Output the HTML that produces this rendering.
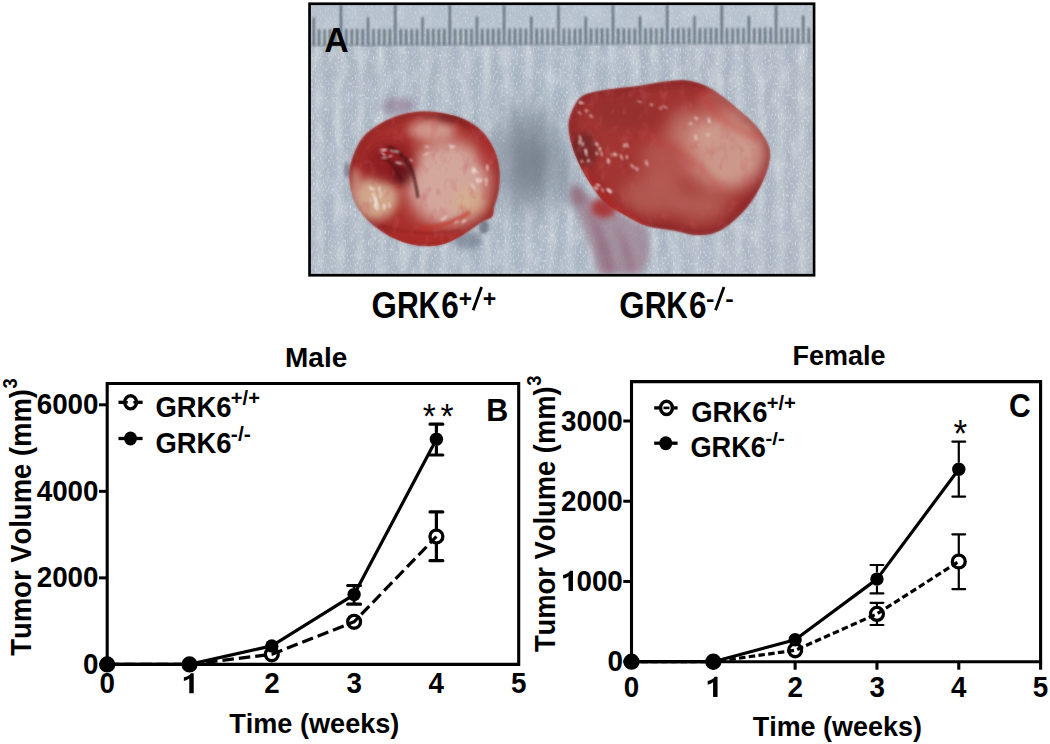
<!DOCTYPE html>
<html><head><meta charset="utf-8"><style>
html,body{margin:0;padding:0;background:#fff;width:1050px;height:744px;overflow:hidden}
svg{display:block}
text{font-family:"Liberation Sans", sans-serif;font-weight:bold;fill:#000;font-kerning:none}
</style></head><body>
<svg width="1050" height="744" viewBox="0 0 1050 744">
<defs>
<clipPath id="pc"><rect x="310.9" y="5.1" width="501.8" height="268.8"/></clipPath>
<filter id="b1" x="-50%" y="-50%" width="200%" height="200%"><feGaussianBlur stdDeviation="0.8"/></filter>
<filter id="b2" x="-30%" y="-30%" width="160%" height="160%"><feGaussianBlur stdDeviation="1.6"/></filter>
<filter id="b3" x="-50%" y="-50%" width="200%" height="200%"><feGaussianBlur stdDeviation="3"/></filter>
<filter id="b5" x="-50%" y="-50%" width="200%" height="200%"><feGaussianBlur stdDeviation="5"/></filter>
<filter id="b8" x="-50%" y="-50%" width="200%" height="200%"><feGaussianBlur stdDeviation="8"/></filter>
<filter id="b12" x="-60%" y="-60%" width="220%" height="220%"><feGaussianBlur stdDeviation="12"/></filter>
<filter id="tex" x="0" y="0" width="100%" height="100%">
 <feTurbulence type="fractalNoise" baseFrequency="0.12 0.045" numOctaves="3" seed="5" result="n"/>
 <feColorMatrix in="n" type="matrix" values="0 0 0 0 0.86  0 0 0 0 0.89  0 0 0 0 0.92  1.6 0 0 0 -0.7" />
</filter>
<filter id="tex2" x="0" y="0" width="100%" height="100%">
 <feTurbulence type="fractalNoise" baseFrequency="0.15 0.04" numOctaves="2" seed="11" result="n"/>
 <feColorMatrix in="n" type="matrix" values="0 0 0 0 0.50  0 0 0 0 0.56  0 0 0 0 0.66  -1.8 0 0 0 0.85" />
</filter>
<filter id="ttex" x="0" y="0" width="100%" height="100%">
 <feTurbulence type="fractalNoise" baseFrequency="0.08 0.1" numOctaves="3" seed="2" result="n"/>
 <feColorMatrix in="n" type="matrix" values="0 0 0 0 0.85  0 0 0 0 0.70  0 0 0 0 0.66  2.0 0 0 0 -1.0" />
</filter>
<filter id="ttex2" x="0" y="0" width="100%" height="100%">
 <feTurbulence type="fractalNoise" baseFrequency="0.1 0.07" numOctaves="3" seed="9" result="n"/>
 <feColorMatrix in="n" type="matrix" values="0 0 0 0 0.55  0 0 0 0 0.10  0 0 0 0 0.12  2.0 0 0 0 -1.05" />
</filter>
<filter id="speck" x="0" y="0" width="100%" height="100%">
 <feTurbulence type="fractalNoise" baseFrequency="0.6 0.35" numOctaves="1" seed="21" result="n"/>
 <feColorMatrix in="n" type="matrix" values="0 0 0 0 0.95  0 0 0 0 0.96  0 0 0 0 0.98  3.0 0 0 0 -1.55" />
</filter>
<linearGradient id="bg" x1="0" y1="0" x2="1" y2="0">
 <stop offset="0" stop-color="#adb8c4"/><stop offset="0.5" stop-color="#acb8c5"/><stop offset="1" stop-color="#b0bac5"/>
</linearGradient>
<pattern id="stripes" x="311" y="0" width="21" height="300" patternUnits="userSpaceOnUse">
 <rect x="4" y="0" width="7" height="300" fill="#dde4ea" opacity="0.22"/>
 <rect x="14" y="0" width="5" height="300" fill="#8a9aaa" opacity="0.12"/>
</pattern>
</defs>
<g clip-path="url(#pc)">
<rect x="310" y="4" width="504" height="271" fill="url(#bg)"/>
<rect x="310" y="46" width="504" height="229" fill="url(#stripes)" filter="url(#b2)"/>
<g filter="url(#b1)"><rect x="310" y="4" width="504" height="271" filter="url(#tex)" opacity="0.5"/></g>
<rect x="310" y="4" width="504" height="271" filter="url(#tex2)" opacity="0.45"/>
<rect x="310" y="4" width="504" height="271" filter="url(#speck)" opacity="0.5"/>
<rect x="310" y="4" width="504" height="41" fill="#c2ccd6" opacity="0.45"/>
<path d="M313.7,45.5V17.5M319.1,45.5V29.2M324.6,45.4V29.2M330.0,45.4V29.1M335.5,45.4V29.1M340.9,45.4V5.0M346.3,45.3V29.1M351.8,45.3V29.1M357.2,45.3V29.1M362.7,45.3V29.0M368.1,45.2V17.3M373.5,45.2V29.0M379.0,45.2V29.0M384.4,45.2V29.0M389.9,45.1V29.0M395.3,45.1V5.0M400.7,45.1V28.9M406.2,45.1V28.9M411.6,45.1V28.9M417.1,45.0V28.9M422.5,45.0V17.1M427.9,45.0V28.8M433.4,45.0V28.8M438.8,44.9V28.8M444.3,44.9V28.8M449.7,44.9V5.0M455.1,44.9V28.8M460.6,44.8V28.7M466.0,44.8V28.7M471.5,44.8V28.7M476.9,44.8V16.8M482.3,44.7V28.7M487.8,44.7V28.7M493.2,44.7V28.7M498.7,44.7V28.6M504.1,44.6V5.0M509.5,44.6V28.6M515.0,44.6V28.6M520.4,44.6V28.6M525.9,44.6V28.6M531.3,44.5V16.6M536.7,44.5V28.5M542.2,44.5V28.5M547.6,44.5V28.5M553.1,44.4V28.5M558.5,44.4V5.0M563.9,44.4V28.4M569.4,44.4V28.4M574.8,44.3V28.4M580.3,44.3V28.4M585.7,44.3V16.4M591.1,44.3V28.4M596.6,44.2V28.3M602.0,44.2V28.3M607.5,44.2V28.3M612.9,44.2V5.0M618.3,44.1V28.3M623.8,44.1V28.3M629.2,44.1V28.2M634.7,44.1V28.2M640.1,44.0V16.2M645.5,44.0V28.2M651.0,44.0V28.2M656.4,44.0V28.2M661.9,44.0V28.1M667.3,43.9V5.0M672.7,43.9V28.1M678.2,43.9V28.1M683.6,43.9V28.1M689.1,43.8V28.1M694.5,43.8V16.0M699.9,43.8V28.0M705.4,43.8V28.0M710.8,43.7V28.0M716.3,43.7V28.0M721.7,43.7V5.0M727.1,43.7V27.9M732.6,43.6V27.9M738.0,43.6V27.9M743.5,43.6V27.9M748.9,43.6V15.7M754.3,43.5V27.9M759.8,43.5V27.9M765.2,43.5V27.8M770.7,43.5V27.8M776.1,43.4V5.0M781.5,43.4V27.8M787.0,43.4V27.8M792.4,43.4V27.8M797.9,43.4V27.7M803.3,43.3V15.5M808.7,43.3V27.7" stroke="#28323a" stroke-width="1.45" fill="none" opacity="0.9" filter="url(#b1)"/>
<path d="M310,45 L814,42.8" stroke="#5c666e" stroke-width="1.6" opacity="0.4" filter="url(#b1)"/>
<ellipse cx="528" cy="160" rx="32" ry="52" fill="#76808c" opacity="0.7" filter="url(#b12)"/>
<ellipse cx="532" cy="162" rx="14" ry="24" fill="#646e7a" opacity="0.4" filter="url(#b8)"/>
<ellipse cx="566" cy="180" rx="7" ry="30" fill="#7a8494" opacity="0.4" filter="url(#b5)"/>
<path d="M571,182 C585,195 620,215 645,226 C652,240 650,258 642,274 L598,274 C592,250 584,228 576,210 C572,200 570,190 571,182Z" fill="#9c7c8c" opacity="0.7" filter="url(#b3)"/>
<path d="M585,205 C592,225 600,250 604,274 L616,274 C612,250 604,228 585,205Z" fill="#804058" opacity="0.35" filter="url(#b3)"/>
<path d="M612,222 C620,240 626,258 628,274 L636,274 C634,256 628,238 612,222Z" fill="#804058" opacity="0.3" filter="url(#b3)"/>
<ellipse cx="578" cy="196" rx="8" ry="10" fill="#7a4a5c" opacity="0.4" filter="url(#b3)"/>
<ellipse cx="604" cy="208" rx="13" ry="10" fill="#a82c2c" opacity="0.85" filter="url(#b3)"/>
<ellipse cx="398" cy="106" rx="16" ry="9" fill="#8a6a88" opacity="0.5" filter="url(#b3)"/>
<ellipse cx="468" cy="240" rx="14" ry="9" fill="#5a6478" opacity="0.5" filter="url(#b3)"/>
<ellipse cx="484" cy="227" rx="5" ry="7" fill="#3a4050" opacity="0.5" filter="url(#b2)"/>
<ellipse cx="347" cy="170" rx="3" ry="8" fill="#5a5a70" opacity="0.5" filter="url(#b2)"/>
<path d="M349.4,177.0 C349.0,170.1 350.2,164.9 352.5,158.3 C354.8,151.7 358.0,143.4 362.9,137.5 C367.8,131.6 375.1,126.7 381.7,122.9 C388.3,119.1 395.6,116.5 402.5,114.6 C409.4,112.7 416.4,111.7 423.3,111.5 C430.2,111.3 437.2,112.1 444.2,113.5 C451.1,114.9 458.8,116.8 465.0,119.8 C471.2,122.8 476.8,126.3 481.7,131.3 C486.6,136.3 491.2,143.4 494.2,150.0 C497.1,156.6 498.7,163.9 499.4,170.8 C500.1,177.8 499.2,185.8 498.3,191.7 C497.4,197.6 495.2,202.1 494.2,206.3 C493.1,210.5 494.1,214.1 492.0,216.7 C489.9,219.3 486.2,219.0 481.7,221.8 C477.2,224.6 471.2,229.6 465.0,233.3 C458.8,237.0 451.1,241.7 444.2,243.8 C437.2,245.9 430.2,246.2 423.3,245.8 C416.4,245.5 409.4,244.1 402.5,241.7 C395.6,239.3 387.9,235.5 381.7,231.3 C375.4,227.1 369.5,221.9 365.0,216.7 C360.5,211.5 357.2,206.6 354.6,200.0 C352.0,193.4 349.8,183.9 349.4,177.0Z" fill="#a8302e" filter="url(#b1)"/>
<clipPath id="stc"><path d="M349.4,177.0 C349.0,170.1 350.2,164.9 352.5,158.3 C354.8,151.7 358.0,143.4 362.9,137.5 C367.8,131.6 375.1,126.7 381.7,122.9 C388.3,119.1 395.6,116.5 402.5,114.6 C409.4,112.7 416.4,111.7 423.3,111.5 C430.2,111.3 437.2,112.1 444.2,113.5 C451.1,114.9 458.8,116.8 465.0,119.8 C471.2,122.8 476.8,126.3 481.7,131.3 C486.6,136.3 491.2,143.4 494.2,150.0 C497.1,156.6 498.7,163.9 499.4,170.8 C500.1,177.8 499.2,185.8 498.3,191.7 C497.4,197.6 495.2,202.1 494.2,206.3 C493.1,210.5 494.1,214.1 492.0,216.7 C489.9,219.3 486.2,219.0 481.7,221.8 C477.2,224.6 471.2,229.6 465.0,233.3 C458.8,237.0 451.1,241.7 444.2,243.8 C437.2,245.9 430.2,246.2 423.3,245.8 C416.4,245.5 409.4,244.1 402.5,241.7 C395.6,239.3 387.9,235.5 381.7,231.3 C375.4,227.1 369.5,221.9 365.0,216.7 C360.5,211.5 357.2,206.6 354.6,200.0 C352.0,193.4 349.8,183.9 349.4,177.0Z"/></clipPath>
<g clip-path="url(#stc)">
<path d="M349.4,177.0 C349.0,170.1 350.2,164.9 352.5,158.3 C354.8,151.7 358.0,143.4 362.9,137.5 C367.8,131.6 375.1,126.7 381.7,122.9 C388.3,119.1 395.6,116.5 402.5,114.6 C409.4,112.7 416.4,111.7 423.3,111.5 C430.2,111.3 437.2,112.1 444.2,113.5 C451.1,114.9 458.8,116.8 465.0,119.8 C471.2,122.8 476.8,126.3 481.7,131.3 C486.6,136.3 491.2,143.4 494.2,150.0 C497.1,156.6 498.7,163.9 499.4,170.8 C500.1,177.8 499.2,185.8 498.3,191.7 C497.4,197.6 495.2,202.1 494.2,206.3 C493.1,210.5 494.1,214.1 492.0,216.7 C489.9,219.3 486.2,219.0 481.7,221.8 C477.2,224.6 471.2,229.6 465.0,233.3 C458.8,237.0 451.1,241.7 444.2,243.8 C437.2,245.9 430.2,246.2 423.3,245.8 C416.4,245.5 409.4,244.1 402.5,241.7 C395.6,239.3 387.9,235.5 381.7,231.3 C375.4,227.1 369.5,221.9 365.0,216.7 C360.5,211.5 357.2,206.6 354.6,200.0 C352.0,193.4 349.8,183.9 349.4,177.0Z" fill="none" stroke="#7e1c1e" stroke-width="12" opacity="0.45" filter="url(#b5)"/>
<ellipse cx="448" cy="183" rx="42" ry="44" fill="#d8b4a8" opacity="0.9" filter="url(#b8)"/>
<ellipse cx="432" cy="130" rx="24" ry="11" fill="#dcb8a8" opacity="0.75" filter="url(#b5)"/>
<ellipse cx="376" cy="198" rx="22" ry="22" fill="#d8bc9c" opacity="0.85" filter="url(#b5)"/>
<ellipse cx="470" cy="202" rx="16" ry="14" fill="#d6b488" opacity="0.55" filter="url(#b5)"/>
<ellipse cx="356" cy="185" rx="6" ry="18" fill="#d4a898" opacity="0.6" filter="url(#b3)"/>
<ellipse cx="390" cy="162" rx="26" ry="21" fill="#8c1e20" opacity="0.85" filter="url(#b5)"/>
<ellipse cx="402" cy="172" rx="10" ry="14" fill="#4a0e12" opacity="0.55" filter="url(#b3)"/>
<ellipse cx="450" cy="118" rx="14" ry="6" fill="#6a1a1c" opacity="0.5" filter="url(#b3)"/>
<ellipse cx="425" cy="238" rx="55" ry="9" fill="#b02a28" opacity="0.6" filter="url(#b3)"/>
<ellipse cx="488" cy="150" rx="10" ry="20" fill="#b03030" opacity="0.5" filter="url(#b3)"/>
<path d="M470,212 C455,222 440,228 420,228" stroke="#c03028" stroke-width="5" fill="none" opacity="0.6" filter="url(#b2)"/>
<path d="M349.4,177.0 C349.0,170.1 350.2,164.9 352.5,158.3 C354.8,151.7 358.0,143.4 362.9,137.5 C367.8,131.6 375.1,126.7 381.7,122.9 C388.3,119.1 395.6,116.5 402.5,114.6 C409.4,112.7 416.4,111.7 423.3,111.5 C430.2,111.3 437.2,112.1 444.2,113.5 C451.1,114.9 458.8,116.8 465.0,119.8 C471.2,122.8 476.8,126.3 481.7,131.3 C486.6,136.3 491.2,143.4 494.2,150.0 C497.1,156.6 498.7,163.9 499.4,170.8 C500.1,177.8 499.2,185.8 498.3,191.7 C497.4,197.6 495.2,202.1 494.2,206.3 C493.1,210.5 494.1,214.1 492.0,216.7 C489.9,219.3 486.2,219.0 481.7,221.8 C477.2,224.6 471.2,229.6 465.0,233.3 C458.8,237.0 451.1,241.7 444.2,243.8 C437.2,245.9 430.2,246.2 423.3,245.8 C416.4,245.5 409.4,244.1 402.5,241.7 C395.6,239.3 387.9,235.5 381.7,231.3 C375.4,227.1 369.5,221.9 365.0,216.7 C360.5,211.5 357.2,206.6 354.6,200.0 C352.0,193.4 349.8,183.9 349.4,177.0Z" filter="url(#ttex2)" opacity="0.55"/>
<path d="M388,147 C398,150 406,158 410,166 C414,175 416,184 418,198" stroke="#3a0e10" stroke-width="2.4" fill="none" opacity="0.85" filter="url(#b1)"/>
<path d="M380,156 C390,160 398,170 402,181" stroke="#4a1010" stroke-width="3" fill="none" opacity="0.6" filter="url(#b1)"/>
<path d="M424,118 C440,114 458,120 470,128" stroke="#7a2020" stroke-width="3" fill="none" opacity="0.45" filter="url(#b2)"/>
<path d="M380,225 C400,232 430,236 460,230" stroke="#8a2020" stroke-width="2" fill="none" opacity="0.5" filter="url(#b1)"/>
<ellipse cx="374.2" cy="189.3" rx="1.8" ry="0.7" transform="rotate(54 374.2 189.3)" fill="#f8ece8" opacity="0.85" filter="url(#b1)"/>
<ellipse cx="377.8" cy="207.2" rx="3.0" ry="0.8" transform="rotate(78 377.8 207.2)" fill="#f8ece8" opacity="0.85" filter="url(#b1)"/>
<ellipse cx="380.8" cy="193.1" rx="1.7" ry="0.8" transform="rotate(40 380.8 193.1)" fill="#f8ece8" opacity="0.85" filter="url(#b1)"/>
<ellipse cx="389.4" cy="205.2" rx="3.1" ry="0.8" transform="rotate(78 389.4 205.2)" fill="#f8ece8" opacity="0.85" filter="url(#b1)"/>
<ellipse cx="375.8" cy="200.8" rx="3.2" ry="1.2" transform="rotate(74 375.8 200.8)" fill="#f8ece8" opacity="0.85" filter="url(#b1)"/>
<ellipse cx="370.9" cy="200.3" rx="2.5" ry="0.8" transform="rotate(70 370.9 200.3)" fill="#f8ece8" opacity="0.85" filter="url(#b1)"/>
<ellipse cx="379.4" cy="189.0" rx="3.2" ry="1.0" transform="rotate(86 379.4 189.0)" fill="#f8ece8" opacity="0.85" filter="url(#b1)"/>
<ellipse cx="375.6" cy="207.0" rx="3.3" ry="1.2" transform="rotate(64 375.6 207.0)" fill="#f8ece8" opacity="0.85" filter="url(#b1)"/>
<ellipse cx="380.2" cy="196.1" rx="2.4" ry="0.8" transform="rotate(66 380.2 196.1)" fill="#f8ece8" opacity="0.85" filter="url(#b1)"/>
<ellipse cx="375.7" cy="204.9" rx="1.6" ry="1.1" transform="rotate(33 375.7 204.9)" fill="#f8ece8" opacity="0.85" filter="url(#b1)"/>
<ellipse cx="375.2" cy="198.8" rx="2.2" ry="1.3" transform="rotate(58 375.2 198.8)" fill="#f8ece8" opacity="0.85" filter="url(#b1)"/>
<ellipse cx="373.3" cy="196.1" rx="2.8" ry="0.9" transform="rotate(42 373.3 196.1)" fill="#f8ece8" opacity="0.85" filter="url(#b1)"/>
<ellipse cx="376.8" cy="203.4" rx="2.6" ry="1.2" transform="rotate(49 376.8 203.4)" fill="#f8ece8" opacity="0.85" filter="url(#b1)"/>
<ellipse cx="371.2" cy="188.4" rx="3.0" ry="1.1" transform="rotate(44 371.2 188.4)" fill="#f8ece8" opacity="0.85" filter="url(#b1)"/>
<ellipse cx="374.2" cy="194.3" rx="2.4" ry="0.7" transform="rotate(41 374.2 194.3)" fill="#f8ece8" opacity="0.85" filter="url(#b1)"/>
<ellipse cx="384.3" cy="206.7" rx="3.0" ry="1.3" transform="rotate(87 384.3 206.7)" fill="#f8ece8" opacity="0.85" filter="url(#b1)"/>
<ellipse cx="383.5" cy="154.2" rx="3.1" ry="0.9" transform="rotate(48 383.5 154.2)" fill="#f8ece8" opacity="0.85" filter="url(#b1)"/>
<ellipse cx="411.3" cy="160.2" rx="2.1" ry="0.8" transform="rotate(39 411.3 160.2)" fill="#f8ece8" opacity="0.85" filter="url(#b1)"/>
<ellipse cx="396.3" cy="151.5" rx="3.4" ry="0.9" transform="rotate(13 396.3 151.5)" fill="#f8ece8" opacity="0.85" filter="url(#b1)"/>
<ellipse cx="383.3" cy="149.8" rx="3.1" ry="0.9" transform="rotate(0 383.3 149.8)" fill="#f8ece8" opacity="0.85" filter="url(#b1)"/>
<ellipse cx="391.7" cy="150.7" rx="2.3" ry="0.8" transform="rotate(49 391.7 150.7)" fill="#f8ece8" opacity="0.85" filter="url(#b1)"/>
<ellipse cx="384.8" cy="150.0" rx="2.9" ry="0.8" transform="rotate(0 384.8 150.0)" fill="#f8ece8" opacity="0.85" filter="url(#b1)"/>
<ellipse cx="384.2" cy="157.8" rx="3.5" ry="0.8" transform="rotate(5 384.2 157.8)" fill="#f8ece8" opacity="0.85" filter="url(#b1)"/>
<ellipse cx="398.9" cy="162.9" rx="3.5" ry="1.0" transform="rotate(15 398.9 162.9)" fill="#f8ece8" opacity="0.85" filter="url(#b1)"/>
<ellipse cx="390.3" cy="156.4" rx="2.3" ry="0.8" transform="rotate(-8 390.3 156.4)" fill="#f8ece8" opacity="0.85" filter="url(#b1)"/>
<ellipse cx="486.2" cy="184.3" rx="1.6" ry="0.9" transform="rotate(60 486.2 184.3)" fill="#f8ece8" opacity="0.85" filter="url(#b1)"/>
<ellipse cx="475.9" cy="170.6" rx="3.2" ry="0.8" transform="rotate(44 475.9 170.6)" fill="#f8ece8" opacity="0.85" filter="url(#b1)"/>
<ellipse cx="472.8" cy="186.4" rx="3.5" ry="0.9" transform="rotate(64 472.8 186.4)" fill="#f8ece8" opacity="0.85" filter="url(#b1)"/>
<ellipse cx="486.4" cy="180.4" rx="3.0" ry="1.0" transform="rotate(77 486.4 180.4)" fill="#f8ece8" opacity="0.85" filter="url(#b1)"/>
<ellipse cx="473.5" cy="170.6" rx="3.3" ry="1.3" transform="rotate(82 473.5 170.6)" fill="#f8ece8" opacity="0.85" filter="url(#b1)"/>
<ellipse cx="477.4" cy="180.5" rx="2.8" ry="1.2" transform="rotate(78 477.4 180.5)" fill="#f8ece8" opacity="0.85" filter="url(#b1)"/>
<ellipse cx="480.4" cy="180.4" rx="2.0" ry="1.3" transform="rotate(71 480.4 180.4)" fill="#f8ece8" opacity="0.85" filter="url(#b1)"/>
<ellipse cx="487.3" cy="167.6" rx="3.4" ry="1.1" transform="rotate(88 487.3 167.6)" fill="#f8ece8" opacity="0.85" filter="url(#b1)"/>
<ellipse cx="426.3" cy="154.0" rx="3.4" ry="1.1" transform="rotate(-22 426.3 154.0)" fill="#f8ece8" opacity="0.6" filter="url(#b1)"/>
<ellipse cx="426.8" cy="146.7" rx="2.6" ry="1.1" transform="rotate(8 426.8 146.7)" fill="#f8ece8" opacity="0.6" filter="url(#b1)"/>
<ellipse cx="452.8" cy="147.2" rx="3.3" ry="0.7" transform="rotate(-30 452.8 147.2)" fill="#f8ece8" opacity="0.6" filter="url(#b1)"/>
<ellipse cx="451.3" cy="146.2" rx="3.1" ry="1.2" transform="rotate(19 451.3 146.2)" fill="#f8ece8" opacity="0.6" filter="url(#b1)"/>
<ellipse cx="456.3" cy="221.8" rx="2.8" ry="0.9" transform="rotate(-38 456.3 221.8)" fill="#f8ece8" opacity="0.7" filter="url(#b1)"/>
<ellipse cx="464.8" cy="220.7" rx="2.6" ry="0.7" transform="rotate(-22 464.8 220.7)" fill="#f8ece8" opacity="0.7" filter="url(#b1)"/>
<ellipse cx="443.4" cy="218.9" rx="3.2" ry="1.1" transform="rotate(-21 443.4 218.9)" fill="#f8ece8" opacity="0.7" filter="url(#b1)"/>
<ellipse cx="446.0" cy="216.6" rx="2.5" ry="0.7" transform="rotate(-4 446.0 216.6)" fill="#f8ece8" opacity="0.7" filter="url(#b1)"/>
<ellipse cx="463.4" cy="221.3" rx="2.6" ry="0.9" transform="rotate(-45 463.4 221.3)" fill="#f8ece8" opacity="0.7" filter="url(#b1)"/>
</g>
<path d="M570.3,116.1 C572.4,110.2 575.8,101.1 581.7,96.7 C587.6,92.3 596.8,91.6 605.7,89.9 C614.7,88.2 625.9,87.7 635.4,86.4 C644.9,85.1 654.0,82.9 662.8,81.9 C671.6,81.0 679.8,79.4 688.0,80.7 C696.2,82.0 702.9,84.0 712.0,89.5 C721.1,95.0 735.0,107.1 742.8,113.8 C750.6,120.5 754.4,124.1 758.8,129.8 C763.2,135.5 767.5,142.0 769.0,148.1 C770.5,154.2 769.7,159.6 768.0,166.4 C766.3,173.2 763.0,181.6 758.8,189.2 C754.6,196.8 749.3,205.2 742.8,212.1 C736.3,219.0 727.6,226.6 720.0,230.4 C712.4,234.2 704.6,235.0 697.0,235.0 C689.4,235.0 682.6,231.9 674.2,230.4 C665.8,228.9 655.2,228.5 646.8,225.8 C638.4,223.1 630.9,218.2 624.0,214.4 C617.1,210.6 610.7,207.2 605.7,203.0 C600.8,198.8 598.1,194.5 594.3,189.2 C590.5,183.9 586.2,177.5 582.8,171.0 C579.4,164.5 576.0,156.9 573.7,150.4 C571.4,143.9 569.7,137.8 569.1,132.1 C568.5,126.4 568.2,122.0 570.3,116.1Z" fill="#a23432" filter="url(#b1)"/>
<clipPath id="btc"><path d="M570.3,116.1 C572.4,110.2 575.8,101.1 581.7,96.7 C587.6,92.3 596.8,91.6 605.7,89.9 C614.7,88.2 625.9,87.7 635.4,86.4 C644.9,85.1 654.0,82.9 662.8,81.9 C671.6,81.0 679.8,79.4 688.0,80.7 C696.2,82.0 702.9,84.0 712.0,89.5 C721.1,95.0 735.0,107.1 742.8,113.8 C750.6,120.5 754.4,124.1 758.8,129.8 C763.2,135.5 767.5,142.0 769.0,148.1 C770.5,154.2 769.7,159.6 768.0,166.4 C766.3,173.2 763.0,181.6 758.8,189.2 C754.6,196.8 749.3,205.2 742.8,212.1 C736.3,219.0 727.6,226.6 720.0,230.4 C712.4,234.2 704.6,235.0 697.0,235.0 C689.4,235.0 682.6,231.9 674.2,230.4 C665.8,228.9 655.2,228.5 646.8,225.8 C638.4,223.1 630.9,218.2 624.0,214.4 C617.1,210.6 610.7,207.2 605.7,203.0 C600.8,198.8 598.1,194.5 594.3,189.2 C590.5,183.9 586.2,177.5 582.8,171.0 C579.4,164.5 576.0,156.9 573.7,150.4 C571.4,143.9 569.7,137.8 569.1,132.1 C568.5,126.4 568.2,122.0 570.3,116.1Z"/></clipPath>
<g clip-path="url(#btc)">
<path d="M570.3,116.1 C572.4,110.2 575.8,101.1 581.7,96.7 C587.6,92.3 596.8,91.6 605.7,89.9 C614.7,88.2 625.9,87.7 635.4,86.4 C644.9,85.1 654.0,82.9 662.8,81.9 C671.6,81.0 679.8,79.4 688.0,80.7 C696.2,82.0 702.9,84.0 712.0,89.5 C721.1,95.0 735.0,107.1 742.8,113.8 C750.6,120.5 754.4,124.1 758.8,129.8 C763.2,135.5 767.5,142.0 769.0,148.1 C770.5,154.2 769.7,159.6 768.0,166.4 C766.3,173.2 763.0,181.6 758.8,189.2 C754.6,196.8 749.3,205.2 742.8,212.1 C736.3,219.0 727.6,226.6 720.0,230.4 C712.4,234.2 704.6,235.0 697.0,235.0 C689.4,235.0 682.6,231.9 674.2,230.4 C665.8,228.9 655.2,228.5 646.8,225.8 C638.4,223.1 630.9,218.2 624.0,214.4 C617.1,210.6 610.7,207.2 605.7,203.0 C600.8,198.8 598.1,194.5 594.3,189.2 C590.5,183.9 586.2,177.5 582.8,171.0 C579.4,164.5 576.0,156.9 573.7,150.4 C571.4,143.9 569.7,137.8 569.1,132.1 C568.5,126.4 568.2,122.0 570.3,116.1Z" fill="none" stroke="#7a1e20" stroke-width="14" opacity="0.5" filter="url(#b5)"/>
<ellipse cx="728" cy="102" rx="30" ry="18" fill="#c87a70" opacity="0.5" filter="url(#b5)"/>
<ellipse cx="726" cy="152" rx="40" ry="38" fill="#d8b2a2" opacity="0.8" filter="url(#b8)"/>
<ellipse cx="690" cy="130" rx="22" ry="20" fill="#d4a898" opacity="0.55" filter="url(#b8)"/>
<ellipse cx="652" cy="195" rx="30" ry="20" fill="#cf9c8c" opacity="0.35" filter="url(#b8)"/>
<ellipse cx="672" cy="160" rx="32" ry="26" fill="#c87a70" opacity="0.45" filter="url(#b8)"/>
<ellipse cx="700" cy="205" rx="28" ry="16" fill="#cfa090" opacity="0.35" filter="url(#b8)"/>
<ellipse cx="625" cy="112" rx="35" ry="16" fill="#8e2e2e" opacity="0.6" filter="url(#b5)"/>
<ellipse cx="585" cy="150" rx="13" ry="18" fill="#5a2222" opacity="0.55" filter="url(#b3)"/>
<path d="M578,165 C590,190 610,210 645,226" stroke="#c62a28" stroke-width="10" fill="none" opacity="0.5" filter="url(#b3)"/>
<path d="M700,86 C708,110 725,128 760,138" stroke="#c43030" stroke-width="7" fill="none" opacity="0.35" filter="url(#b3)"/>
<path d="M640,135 C670,145 700,160 720,190" stroke="#c03030" stroke-width="5" fill="none" opacity="0.35" filter="url(#b3)"/>
<path d="M570.3,116.1 C572.4,110.2 575.8,101.1 581.7,96.7 C587.6,92.3 596.8,91.6 605.7,89.9 C614.7,88.2 625.9,87.7 635.4,86.4 C644.9,85.1 654.0,82.9 662.8,81.9 C671.6,81.0 679.8,79.4 688.0,80.7 C696.2,82.0 702.9,84.0 712.0,89.5 C721.1,95.0 735.0,107.1 742.8,113.8 C750.6,120.5 754.4,124.1 758.8,129.8 C763.2,135.5 767.5,142.0 769.0,148.1 C770.5,154.2 769.7,159.6 768.0,166.4 C766.3,173.2 763.0,181.6 758.8,189.2 C754.6,196.8 749.3,205.2 742.8,212.1 C736.3,219.0 727.6,226.6 720.0,230.4 C712.4,234.2 704.6,235.0 697.0,235.0 C689.4,235.0 682.6,231.9 674.2,230.4 C665.8,228.9 655.2,228.5 646.8,225.8 C638.4,223.1 630.9,218.2 624.0,214.4 C617.1,210.6 610.7,207.2 605.7,203.0 C600.8,198.8 598.1,194.5 594.3,189.2 C590.5,183.9 586.2,177.5 582.8,171.0 C579.4,164.5 576.0,156.9 573.7,150.4 C571.4,143.9 569.7,137.8 569.1,132.1 C568.5,126.4 568.2,122.0 570.3,116.1Z" filter="url(#ttex2)" opacity="0.5"/>
<ellipse cx="596.9" cy="144.3" rx="2.5" ry="1.3" transform="rotate(54 596.9 144.3)" fill="#f8ece8" opacity="0.85" filter="url(#b1)"/>
<ellipse cx="580.3" cy="138.4" rx="3.3" ry="1.0" transform="rotate(77 580.3 138.4)" fill="#f8ece8" opacity="0.85" filter="url(#b1)"/>
<ellipse cx="588.4" cy="160.7" rx="1.6" ry="1.2" transform="rotate(87 588.4 160.7)" fill="#f8ece8" opacity="0.85" filter="url(#b1)"/>
<ellipse cx="582.7" cy="144.1" rx="2.3" ry="1.2" transform="rotate(90 582.7 144.1)" fill="#f8ece8" opacity="0.85" filter="url(#b1)"/>
<ellipse cx="582.0" cy="161.2" rx="1.8" ry="1.0" transform="rotate(51 582.0 161.2)" fill="#f8ece8" opacity="0.85" filter="url(#b1)"/>
<ellipse cx="586.1" cy="151.3" rx="2.9" ry="0.7" transform="rotate(94 586.1 151.3)" fill="#f8ece8" opacity="0.85" filter="url(#b1)"/>
<ellipse cx="585.5" cy="151.3" rx="2.9" ry="1.0" transform="rotate(69 585.5 151.3)" fill="#f8ece8" opacity="0.85" filter="url(#b1)"/>
<ellipse cx="579.8" cy="142.4" rx="2.2" ry="1.2" transform="rotate(91 579.8 142.4)" fill="#f8ece8" opacity="0.85" filter="url(#b1)"/>
<ellipse cx="601.7" cy="153.8" rx="2.7" ry="0.9" transform="rotate(81 601.7 153.8)" fill="#f8ece8" opacity="0.85" filter="url(#b1)"/>
<ellipse cx="599.9" cy="149.0" rx="2.1" ry="1.2" transform="rotate(95 599.9 149.0)" fill="#f8ece8" opacity="0.85" filter="url(#b1)"/>
<ellipse cx="596.9" cy="153.4" rx="1.8" ry="1.2" transform="rotate(67 596.9 153.4)" fill="#f8ece8" opacity="0.85" filter="url(#b1)"/>
<ellipse cx="586.7" cy="154.9" rx="1.7" ry="0.8" transform="rotate(48 586.7 154.9)" fill="#f8ece8" opacity="0.85" filter="url(#b1)"/>
<ellipse cx="624.2" cy="145.6" rx="2.2" ry="1.0" transform="rotate(84 624.2 145.6)" fill="#f8ece8" opacity="0.85" filter="url(#b1)"/>
<ellipse cx="615.0" cy="154.4" rx="2.3" ry="1.3" transform="rotate(36 615.0 154.4)" fill="#f8ece8" opacity="0.85" filter="url(#b1)"/>
<ellipse cx="611.6" cy="155.1" rx="2.1" ry="0.7" transform="rotate(50 611.6 155.1)" fill="#f8ece8" opacity="0.85" filter="url(#b1)"/>
<ellipse cx="608.4" cy="161.0" rx="3.1" ry="1.2" transform="rotate(80 608.4 161.0)" fill="#f8ece8" opacity="0.85" filter="url(#b1)"/>
<ellipse cx="627.1" cy="145.2" rx="2.5" ry="1.0" transform="rotate(65 627.1 145.2)" fill="#f8ece8" opacity="0.85" filter="url(#b1)"/>
<ellipse cx="626.8" cy="157.2" rx="1.7" ry="1.1" transform="rotate(88 626.8 157.2)" fill="#f8ece8" opacity="0.85" filter="url(#b1)"/>
<ellipse cx="621.5" cy="156.9" rx="3.2" ry="0.9" transform="rotate(67 621.5 156.9)" fill="#f8ece8" opacity="0.85" filter="url(#b1)"/>
<ellipse cx="609.4" cy="190.7" rx="3.3" ry="1.1" transform="rotate(46 609.4 190.7)" fill="#f8ece8" opacity="0.85" filter="url(#b1)"/>
<ellipse cx="595.8" cy="188.2" rx="2.8" ry="1.3" transform="rotate(30 595.8 188.2)" fill="#f8ece8" opacity="0.85" filter="url(#b1)"/>
<ellipse cx="608.8" cy="190.6" rx="3.1" ry="0.9" transform="rotate(34 608.8 190.6)" fill="#f8ece8" opacity="0.85" filter="url(#b1)"/>
<ellipse cx="598.1" cy="185.2" rx="2.6" ry="1.1" transform="rotate(21 598.1 185.2)" fill="#f8ece8" opacity="0.85" filter="url(#b1)"/>
<ellipse cx="602.5" cy="190.1" rx="2.7" ry="0.8" transform="rotate(67 602.5 190.1)" fill="#f8ece8" opacity="0.85" filter="url(#b1)"/>
<ellipse cx="590.5" cy="198.6" rx="3.3" ry="1.1" transform="rotate(69 590.5 198.6)" fill="#f8ece8" opacity="0.85" filter="url(#b1)"/>
<ellipse cx="696.2" cy="118.2" rx="1.9" ry="1.3" transform="rotate(45 696.2 118.2)" fill="#f8ece8" opacity="0.7" filter="url(#b1)"/>
<ellipse cx="707.9" cy="134.7" rx="2.0" ry="0.9" transform="rotate(39 707.9 134.7)" fill="#f8ece8" opacity="0.7" filter="url(#b1)"/>
<ellipse cx="709.0" cy="119.9" rx="2.9" ry="1.0" transform="rotate(77 709.0 119.9)" fill="#f8ece8" opacity="0.7" filter="url(#b1)"/>
<ellipse cx="709.2" cy="122.3" rx="1.8" ry="0.8" transform="rotate(61 709.2 122.3)" fill="#f8ece8" opacity="0.7" filter="url(#b1)"/>
<ellipse cx="690.6" cy="123.6" rx="1.6" ry="1.3" transform="rotate(37 690.6 123.6)" fill="#f8ece8" opacity="0.7" filter="url(#b1)"/>
<ellipse cx="695.8" cy="137.4" rx="3.0" ry="1.1" transform="rotate(72 695.8 137.4)" fill="#f8ece8" opacity="0.7" filter="url(#b1)"/>
<ellipse cx="591.1" cy="116.1" rx="2.6" ry="1.1" transform="rotate(43 591.1 116.1)" fill="#f8ece8" opacity="0.7" filter="url(#b1)"/>
<ellipse cx="586.5" cy="110.8" rx="1.8" ry="1.2" transform="rotate(30 586.5 110.8)" fill="#f8ece8" opacity="0.7" filter="url(#b1)"/>
<ellipse cx="581.7" cy="103.1" rx="3.2" ry="0.9" transform="rotate(10 581.7 103.1)" fill="#f8ece8" opacity="0.7" filter="url(#b1)"/>
<ellipse cx="579.8" cy="112.9" rx="2.2" ry="0.9" transform="rotate(52 579.8 112.9)" fill="#f8ece8" opacity="0.7" filter="url(#b1)"/>
<ellipse cx="580.5" cy="102.4" rx="1.5" ry="1.3" transform="rotate(53 580.5 102.4)" fill="#f8ece8" opacity="0.7" filter="url(#b1)"/>
<ellipse cx="639.6" cy="101.6" rx="3.1" ry="0.8" transform="rotate(21 639.6 101.6)" fill="#f8ece8" opacity="0.6" filter="url(#b1)"/>
<ellipse cx="651.6" cy="104.8" rx="1.9" ry="1.2" transform="rotate(13 651.6 104.8)" fill="#f8ece8" opacity="0.6" filter="url(#b1)"/>
<ellipse cx="664.9" cy="107.1" rx="3.4" ry="0.9" transform="rotate(25 664.9 107.1)" fill="#f8ece8" opacity="0.6" filter="url(#b1)"/>
<ellipse cx="660.4" cy="108.3" rx="1.7" ry="1.1" transform="rotate(5 660.4 108.3)" fill="#f8ece8" opacity="0.6" filter="url(#b1)"/>
<ellipse cx="646.6" cy="163.1" rx="3.3" ry="1.1" transform="rotate(69 646.6 163.1)" fill="#f8ece8" opacity="0.7" filter="url(#b1)"/>
<ellipse cx="632.6" cy="166.3" rx="3.2" ry="1.1" transform="rotate(45 632.6 166.3)" fill="#f8ece8" opacity="0.7" filter="url(#b1)"/>
<ellipse cx="636.9" cy="169.0" rx="2.2" ry="1.2" transform="rotate(68 636.9 169.0)" fill="#f8ece8" opacity="0.7" filter="url(#b1)"/>
</g>
</g>
<rect x="309.55" y="3.75" width="504.49999999999994" height="271.5" fill="none" stroke="#000" stroke-width="2.7"/>
<text transform="translate(324.36,51.70) scale(1,1.052)" font-size="33.84">A</text>
<text transform="translate(371.56,318.34) scale(0.906,1.020)" font-size="36.00">G</text>
<text transform="translate(396.88,318.20) scale(0.840,1.009)" font-size="36.00">R</text>
<text transform="translate(418.41,318.20) scale(0.826,1.009)" font-size="36.00">K</text>
<text transform="translate(441.15,318.34) scale(0.873,1.020)" font-size="36.00">6</text>
<text transform="translate(458.75,306.73) scale(0.988,1.010)" font-size="23.00">+</text>
<line x1="473.6" y1="308.9" x2="481.1" y2="288.4" stroke="#000" stroke-width="2.8" stroke-linecap="square"/>
<text transform="translate(482.73,306.73) scale(1.006,1.010)" font-size="23.00">+</text>
<text transform="translate(619.36,318.34) scale(0.906,1.020)" font-size="36.00">G</text>
<text transform="translate(644.68,318.20) scale(0.840,1.009)" font-size="36.00">R</text>
<text transform="translate(666.21,318.20) scale(0.826,1.009)" font-size="36.00">K</text>
<text transform="translate(688.95,318.34) scale(0.873,1.020)" font-size="36.00">6</text>
<text transform="translate(706.12,305.66) scale(0.969,0.839)" font-size="26.00">-</text>
<line x1="716.0" y1="308.9" x2="723.5" y2="288.4" stroke="#000" stroke-width="2.8" stroke-linecap="square"/>
<text transform="translate(725.20,305.66) scale(0.985,0.839)" font-size="26.00">-</text>
<path d="M107.2,383.5 L518.7,383.5 L518.7,664.4 L107.2,664.4 Z" fill="none" stroke="#000" stroke-width="3.1" stroke-linejoin="miter"/>
<line x1="99.0" y1="664.40" x2="107.2" y2="664.40" stroke="#000" stroke-width="3"/>
<text transform="translate(83.08,673.72) scale(1.000,1.047)" font-size="27.80">0</text>
<line x1="99.0" y1="577.87" x2="107.2" y2="577.87" stroke="#000" stroke-width="3"/>
<text transform="translate(36.70,587.19) scale(1.000,1.047)" font-size="27.80">2000</text>
<line x1="99.0" y1="491.33" x2="107.2" y2="491.33" stroke="#000" stroke-width="3"/>
<text transform="translate(36.70,500.65) scale(1.000,1.047)" font-size="27.80">4000</text>
<line x1="99.0" y1="404.80" x2="107.2" y2="404.80" stroke="#000" stroke-width="3"/>
<text transform="translate(36.70,414.12) scale(1.000,1.047)" font-size="27.80">6000</text>
<text transform="translate(99.49,693.30) scale(1.000,1.047)" font-size="27.80">0</text>
<g transform="translate(181.77,693.30) scale(1.000,1.047)"><path transform="translate(0.00,0) scale(27.800,-27.800)" d="M0.43,0 L0.43,0.692 L0.325,0.692 C0.29,0.625 0.2,0.57 0.075,0.55 L0.075,0.425 C0.15,0.445 0.22,0.475 0.27,0.51 L0.27,0 Z"/></g>
<text transform="translate(264.14,693.30) scale(1.000,1.047)" font-size="27.80">2</text>
<text transform="translate(346.55,693.30) scale(1.000,1.047)" font-size="27.80">3</text>
<text transform="translate(428.53,693.30) scale(1.000,1.047)" font-size="27.80">4</text>
<text transform="translate(510.93,693.30) scale(1.000,1.047)" font-size="27.80">5</text>
<text transform="translate(285.03,366.73) scale(1,1.002)" font-size="27.99">Male</text>
<text transform="translate(229.20,733.28) scale(1,1.017)" font-size="27.11">Time (weeks)</text>
<g transform="translate(31.00,655.81) rotate(-90) scale(1,1.090)"><text x="0" y="0" font-size="27.45">Tumor Volume (mm)</text><text x="267.29" y="-12.75" font-size="18.31">3</text></g>
<text transform="translate(486.26,420.50) scale(1,1.053)" font-size="30.50">B</text>
<polyline points="107.20,664.40 189.50,664.40 271.80,654.30 354.10,621.80 436.40,536.50" fill="none" stroke="#000" stroke-width="3.2" stroke-dasharray="11.5,5" stroke-linejoin="round"/>
<polyline points="107.20,664.40 189.50,664.40 271.80,645.90 354.10,594.60 436.40,439.30" fill="none" stroke="#000" stroke-width="3.2" stroke-linejoin="round"/>
<path d="M436.40,511.9 L436.40,529.00 M436.40,544.00 L436.40,560.7 M430.00,511.9 L442.80,511.9 M430.00,560.7 L442.80,560.7" stroke="#000" stroke-width="3.2" stroke-linecap="round" fill="none"/>
<path d="M354.10,585.5 L354.10,587.10 M354.10,602.10 L354.10,604.2 M347.70,585.5 L360.50,585.5 M347.70,604.2 L360.50,604.2" stroke="#000" stroke-width="3.2" stroke-linecap="round" fill="none"/>
<path d="M436.40,424.2 L436.40,431.80 M436.40,446.80 L436.40,455.0 M430.00,424.2 L442.80,424.2 M430.00,455.0 L442.80,455.0" stroke="#000" stroke-width="3.2" stroke-linecap="round" fill="none"/>
<circle cx="107.20" cy="664.40" r="6.45" fill="none" stroke="#000" stroke-width="3.3"/>
<circle cx="189.50" cy="664.40" r="6.45" fill="none" stroke="#000" stroke-width="3.3"/>
<circle cx="271.80" cy="654.30" r="6.45" fill="none" stroke="#000" stroke-width="3.3"/>
<circle cx="354.10" cy="621.80" r="6.45" fill="none" stroke="#000" stroke-width="3.3"/>
<circle cx="436.40" cy="536.50" r="6.45" fill="none" stroke="#000" stroke-width="3.3"/>
<circle cx="107.20" cy="664.40" r="6.7" fill="#000"/>
<circle cx="189.50" cy="664.40" r="6.7" fill="#000"/>
<circle cx="271.80" cy="645.90" r="6.7" fill="#000"/>
<circle cx="354.10" cy="594.60" r="6.7" fill="#000"/>
<circle cx="436.40" cy="439.30" r="6.7" fill="#000"/>
<text transform="translate(422.86,427.60) scale(1,1.052)" font-size="33.57" style="font-weight:normal">*</text>
<text transform="translate(440.56,427.60) scale(1,1.052)" font-size="33.57" style="font-weight:normal">*</text>
<line x1="118.5" y1="402.3" x2="142.6" y2="402.3" stroke="#000" stroke-width="3.3"/>
<ellipse cx="130.6" cy="402.3" rx="5.9" ry="6.6" fill="#fff" stroke="#000" stroke-width="3.4"/>
<line x1="126.1" y1="402.3" x2="127.8" y2="402.3" stroke="#000" stroke-width="2.6"/><line x1="133.4" y1="402.3" x2="135.1" y2="402.3" stroke="#000" stroke-width="2.6"/>
<line x1="118.5" y1="438.5" x2="142.6" y2="438.5" stroke="#000" stroke-width="3.3"/>
<ellipse cx="130.5" cy="438.5" rx="6.45" ry="7.05" fill="#000"/>
<text transform="translate(155.48,416.71) scale(1,1.088)" font-size="27.40">GRK6</text>
<text transform="translate(230.86,404.60) scale(1,0.996)" font-size="20.10">+/+</text>
<text transform="translate(155.48,452.71) scale(1,1.088)" font-size="27.40">GRK6</text>
<text transform="translate(230.87,440.60) scale(1,0.946)" font-size="21.16">-/-</text>
<path d="M631.5,381.6 L1040.6,381.6 L1040.6,661.7 L631.5,661.7 Z" fill="none" stroke="#000" stroke-width="3.1" stroke-linejoin="miter"/>
<line x1="623.3" y1="661.70" x2="631.5" y2="661.70" stroke="#000" stroke-width="3"/>
<text transform="translate(607.38,671.22) scale(1.000,1.047)" font-size="27.80">0</text>
<line x1="623.3" y1="581.47" x2="631.5" y2="581.47" stroke="#000" stroke-width="3"/>
<g transform="translate(561.00,590.99) scale(1.000,1.047)"><path transform="translate(0.00,0) scale(27.800,-27.800)" d="M0.43,0 L0.43,0.692 L0.325,0.692 C0.29,0.625 0.2,0.57 0.075,0.55 L0.075,0.425 C0.15,0.445 0.22,0.475 0.27,0.51 L0.27,0 Z"/><text x="15.46" y="0" font-size="27.80">000</text></g>
<line x1="623.3" y1="501.23" x2="631.5" y2="501.23" stroke="#000" stroke-width="3"/>
<text transform="translate(561.00,510.75) scale(1.000,1.047)" font-size="27.80">2000</text>
<line x1="623.3" y1="421.00" x2="631.5" y2="421.00" stroke="#000" stroke-width="3"/>
<text transform="translate(561.00,430.50) scale(1.000,1.047)" font-size="27.80">3000</text>
<text transform="translate(623.79,697.00) scale(1.000,1.047)" font-size="27.80">0</text>
<line x1="713.32" y1="661.7" x2="713.32" y2="669.7" stroke="#000" stroke-width="3.1"/>
<g transform="translate(705.59,697.00) scale(1.000,1.047)"><path transform="translate(0.00,0) scale(27.800,-27.800)" d="M0.43,0 L0.43,0.692 L0.325,0.692 C0.29,0.625 0.2,0.57 0.075,0.55 L0.075,0.425 C0.15,0.445 0.22,0.475 0.27,0.51 L0.27,0 Z"/></g>
<line x1="795.14" y1="661.7" x2="795.14" y2="669.7" stroke="#000" stroke-width="3.1"/>
<text transform="translate(787.48,697.00) scale(1.000,1.047)" font-size="27.80">2</text>
<line x1="876.96" y1="661.7" x2="876.96" y2="669.7" stroke="#000" stroke-width="3.1"/>
<text transform="translate(869.41,697.00) scale(1.000,1.047)" font-size="27.80">3</text>
<line x1="958.78" y1="661.7" x2="958.78" y2="669.7" stroke="#000" stroke-width="3.1"/>
<text transform="translate(950.91,697.00) scale(1.000,1.047)" font-size="27.80">4</text>
<line x1="1040.60" y1="661.7" x2="1040.60" y2="669.7" stroke="#000" stroke-width="3.1"/>
<text transform="translate(1032.83,697.00) scale(1.000,1.047)" font-size="27.80">5</text>
<text transform="translate(792.49,365.33) scale(1,1.024)" font-size="26.99">Female</text>
<text transform="translate(752.70,735.87) scale(1,1.007)" font-size="26.95">Time (weeks)</text>
<g transform="translate(554.80,652.11) rotate(-90) scale(1,1.090)"><text x="0" y="0" font-size="27.35">Tumor Volume (mm)</text><text x="266.29" y="-12.75" font-size="18.31">3</text></g>
<text transform="translate(1008.96,416.98) scale(1,1.073)" font-size="30.13">C</text>
<polyline points="631.50,661.70 713.32,661.70 795.14,650.30 876.96,613.90 958.78,561.50" fill="none" stroke="#000" stroke-width="3.2" stroke-dasharray="6.5,3.3" stroke-linejoin="round"/>
<polyline points="631.50,661.70 713.32,661.70 795.14,639.70 876.96,579.10 958.78,469.30" fill="none" stroke="#000" stroke-width="3.2" stroke-linejoin="round"/>
<path d="M876.96,602.8 L876.96,606.40 M876.96,621.40 L876.96,625.0 M870.56,602.8 L883.36,602.8 M870.56,625.0 L883.36,625.0" stroke="#000" stroke-width="2.2" stroke-linecap="round" fill="none"/>
<path d="M958.78,534.3 L958.78,554.00 M958.78,569.00 L958.78,589.1 M952.38,534.3 L965.18,534.3 M952.38,589.1 L965.18,589.1" stroke="#000" stroke-width="2.2" stroke-linecap="round" fill="none"/>
<path d="M876.96,565.0 L876.96,571.60 M876.96,586.60 L876.96,593.4 M870.56,565.0 L883.36,565.0 M870.56,593.4 L883.36,593.4" stroke="#000" stroke-width="2.2" stroke-linecap="round" fill="none"/>
<path d="M958.78,441.7 L958.78,461.80 M958.78,476.80 L958.78,496.6 M952.38,441.7 L965.18,441.7 M952.38,496.6 L965.18,496.6" stroke="#000" stroke-width="2.2" stroke-linecap="round" fill="none"/>
<circle cx="631.50" cy="661.70" r="6.45" fill="none" stroke="#000" stroke-width="3.3"/>
<circle cx="713.32" cy="661.70" r="6.45" fill="none" stroke="#000" stroke-width="3.3"/>
<circle cx="795.14" cy="650.30" r="6.45" fill="none" stroke="#000" stroke-width="3.3"/>
<circle cx="876.96" cy="613.90" r="6.45" fill="none" stroke="#000" stroke-width="3.3"/>
<circle cx="958.78" cy="561.50" r="6.45" fill="none" stroke="#000" stroke-width="3.3"/>
<circle cx="631.50" cy="661.70" r="6.7" fill="#000"/>
<circle cx="713.32" cy="661.70" r="6.7" fill="#000"/>
<circle cx="795.14" cy="639.70" r="6.7" fill="#000"/>
<circle cx="876.96" cy="579.10" r="6.7" fill="#000"/>
<circle cx="958.78" cy="469.30" r="6.7" fill="#000"/>
<text transform="translate(953.43,447.06) scale(1,1.075)" font-size="35.25" style="font-weight:normal">*</text>
<line x1="654.2" y1="407.9" x2="677.6" y2="407.9" stroke="#000" stroke-width="3.3"/>
<ellipse cx="666.5" cy="407.9" rx="5.9" ry="6.6" fill="#fff" stroke="#000" stroke-width="3.4"/>
<line x1="663.5" y1="407.9" x2="669.5" y2="407.9" stroke="#000" stroke-width="2.6"/>
<line x1="654.2" y1="443.2" x2="677.6" y2="443.2" stroke="#000" stroke-width="3.3"/>
<ellipse cx="665.8" cy="443.2" rx="6.45" ry="7.05" fill="#000"/>
<text transform="translate(691.28,422.31) scale(1,1.093)" font-size="27.40">GRK6</text>
<text transform="translate(766.66,410.20) scale(1,0.996)" font-size="20.10">+/+</text>
<text transform="translate(690.49,456.62) scale(1,1.071)" font-size="27.17">GRK6</text>
<text transform="translate(765.61,444.53) scale(1,0.916)" font-size="20.24">-/-</text>
</svg>
</body></html>
